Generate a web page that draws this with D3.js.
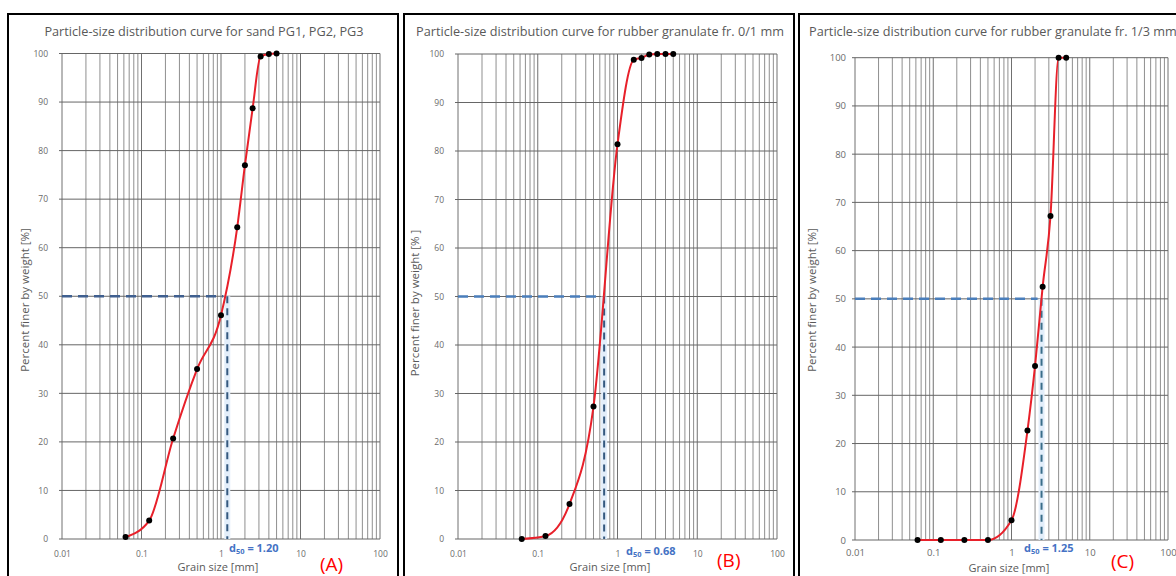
<!DOCTYPE html>
<html>
<head>
<meta charset="utf-8">
<script src="https://cdn.jsdelivr.net/npm/d3@7"></script>
<style>
body { margin: 0; background: #fff; overflow: hidden; }
svg { display: block; font-family: "Open Sans", sans-serif; }
</style>
</head>
<body>
<svg id="chart" width="1176" height="576"></svg>
<script>
// sieve sizes [mm] and cumulative passing [%]
var sieveSizes = [0.063, 0.125, 0.25, 0.5, 1, 1.6, 2, 2.5, 3.15, 4, 5]
var passingA = [0.4, 3.8, 20.7, 35, 46.1, 64.2, 77, 88.7, 99.4, 99.9, 100]
var passingB = [0, 0.6, 7.2, 27.3, 81.4, 98.8, 99.2, 99.9, 100, 100, 100]
var passingC = [0, 0, 0, 0, 4.1, 22.7, 36.1, 52.5, 67.2, 100, 100]

var titles = ["Particle-size distribution curve for sand PG1, PG2, PG3",
              "Particle-size distribution curve for rubber granulate fr. 0/1 mm",
              "Particle-size distribution curve for rubber granulate fr. 1/3 mm"]
var yTitles = ["Percent finer by weight [%]", "Percent finer by weight [% ]", "Percent finer by weight [%]"]
var xTitle = "Grain size [mm]"
var panelTags = ["(A)", "(B)", "(C)"]

// where the dashed d50 guide is drawn, and the value written next to it
var d50At = [1.2, 0.68, 2.42]
var d50Text = ["1.20", "0.68", "1.25"]

var xTicks = [0.01, 0.1, 1, 10, 100]
var xTickLabels = ["0.01", "0.1", "1", "10", "100"]
var yTicks = [0, 10, 20, 30, 40, 50, 60, 70, 80, 90, 100]

var series = [passingA, passingB, passingC]

var panels = [
    {box: {x: 8, y: 14, w: 390, h: 600},
     plot: {left: 62, right: 380, top: 53.5, bottom: 539},
     title: {x: 204, y: 36, anchor: "middle"},
     yTitle: {x: 25, y: 300}, xTitle: {x: 218, y: 571},
     d50: {x: 229, y: 552}, tag: {x: 320, y: 571},
     tickSize: 8.5, xPad: 12, yPad: 14, hColor: "#3f5f8f", vColor: "#35597f"},
    {box: {x: 404, y: 14, w: 390, h: 600},
     plot: {left: 458, right: 777, top: 54, bottom: 539},
     title: {x: 600, y: 36, anchor: "middle"},
     yTitle: {x: 415, y: 303}, xTitle: {x: 610, y: 571},
     d50: {x: 626, y: 555}, tag: {x: 717, y: 567},
     tickSize: 8.5, xPad: 12, yPad: 14, hColor: "#4a7ebb", vColor: "#35597f"},
    {box: {x: 799, y: 14, w: 420, h: 600},
     plot: {left: 855, right: 1168, top: 57.7, bottom: 540},
     title: {x: 809, y: 36, anchor: "start"},
     yTitle: {x: 812, y: 300}, xTitle: {x: 1009, y: 572},
     d50: {x: 1024, y: 552}, tag: {x: 1111, y: 568},
     tickSize: 9.5, xPad: 9, yPad: 9, hColor: "#4a7ebb", vColor: "#3a6e8a"}
]

var svg = d3.select("#chart")

panels.forEach(function(p, i) {

    var x = d3.scaleLog()
              .domain([0.01, 100])
              .range([p.plot.left, p.plot.right])

    var y = d3.scaleLinear()
              .domain([0, 100])
              .range([p.plot.bottom, p.plot.top])

    var g = svg.append("g")

    g.append("rect")
     .attr("x", p.box.x)
     .attr("y", p.box.y)
     .attr("width", p.box.w)
     .attr("height", p.box.h)
     .attr("fill", "white")
     .attr("stroke", "black")
     .attr("stroke-width", 2)

    // vertical log grid: every 1..9 of each decade
    g.append("g")
     .selectAll("line")
     .data(x.ticks())
     .enter()
     .append("line")
     .attr("x1", d => x(d))
     .attr("x2", d => x(d))
     .attr("y1", p.plot.top)
     .attr("y2", p.plot.bottom)
     .attr("stroke", d => xTicks.indexOf(d) >= 0 ? "#707070" : "#8f8f8f")
     .attr("stroke-width", 1)

    g.append("g")
     .selectAll("line")
     .data(yTicks)
     .enter()
     .append("line")
     .attr("x1", p.plot.left - 3)
     .attr("x2", p.plot.right)
     .attr("y1", d => y(d))
     .attr("y2", d => y(d))
     .attr("stroke", "#666")
     .attr("stroke-width", 1)

    var xAxis = g.append("g")
                 .attr("transform", `translate(0, ${p.plot.bottom})`)
                 .call(d3.axisBottom(x)
                         .tickValues(xTicks)
                         .tickFormat((d, k) => xTickLabels[k])
                         .tickSize(0)
                         .tickPadding(p.xPad))
    xAxis.select(".domain").remove()

    var yAxis = g.append("g")
                 .attr("transform", `translate(${p.plot.left}, 0)`)
                 .call(d3.axisLeft(y)
                         .tickValues(yTicks)
                         .tickSize(0)
                         .tickPadding(p.yPad))
    yAxis.select(".domain").remove()

    g.selectAll(".tick text")
     .attr("fill", "#6b6b6b")
     .style("font-size", p.tickSize + "px")
     .style("font-family", "'Open Sans', sans-serif")

    // d50 guides
    g.append("line")
     .attr("x1", x(d50At[i]))
     .attr("x2", x(d50At[i]))
     .attr("y1", y(50))
     .attr("y2", y(0))
     .attr("stroke", "#e3eefa")
     .attr("stroke-width", 6)

    g.append("line")
     .attr("x1", p.plot.left)
     .attr("x2", x(d50At[i]) - 4)
     .attr("y1", y(50))
     .attr("y2", y(50))
     .attr("stroke", p.hColor)
     .attr("stroke-width", 2.5)
     .attr("stroke-dasharray", "10,6")

    g.append("line")
     .attr("x1", x(d50At[i]))
     .attr("x2", x(d50At[i]))
     .attr("y1", y(50))
     .attr("y2", y(0))
     .attr("stroke", p.vColor)
     .attr("stroke-width", 2)
     .attr("stroke-dasharray", "7,5")

    var points = sieveSizes.map((s, k) => [s, series[i][k]])

    var line = d3.line()
                 .x(d => x(d[0]))
                 .y(d => y(d[1]))
                 .curve(d3.curveMonotoneX)

    g.append("path")
     .attr("d", line(points))
     .attr("fill", "none")
     .attr("stroke", "#e8202a")
     .attr("stroke-width", 2)

    g.append("g")
     .selectAll("circle")
     .data(points)
     .enter()
     .append("circle")
     .attr("cx", d => x(d[0]))
     .attr("cy", d => y(d[1]))
     .attr("r", 3)
     .attr("fill", "black")

    g.append("text")
     .attr("x", p.title.x)
     .attr("y", p.title.y)
     .attr("text-anchor", p.title.anchor)
     .attr("fill", "#595959")
     .style("font-size", "12.7px")
     .text(titles[i])

    g.append("text")
     .attr("transform", `translate(${p.yTitle.x}, ${p.yTitle.y}) rotate(-90)`)
     .attr("text-anchor", "middle")
     .attr("dy", "0.35em")
     .attr("fill", "#595959")
     .style("font-size", "11.5px")
     .text(yTitles[i])

    g.append("text")
     .attr("x", p.xTitle.x)
     .attr("y", p.xTitle.y)
     .attr("text-anchor", "middle")
     .attr("fill", "#595959")
     .style("font-size", "11px")
     .text(xTitle)

    var d50Label = g.append("text")
                    .attr("x", p.d50.x)
                    .attr("y", p.d50.y)
                    .attr("fill", "#4472c4")
                    .style("font-size", "11px")
                    .style("font-weight", "bold")
    d50Label.append("tspan").text("d")
    d50Label.append("tspan")
            .attr("dy", "2")
            .style("font-size", "7.5px")
            .text("50")
    d50Label.append("tspan")
            .attr("dy", "-2")
            .text(" = " + d50Text[i])

    g.append("text")
     .attr("x", p.tag.x)
     .attr("y", p.tag.y)
     .attr("fill", "#ff0000")
     .style("font-size", "19px")
     .text(panelTags[i])
})
</script>
</body>
</html>
